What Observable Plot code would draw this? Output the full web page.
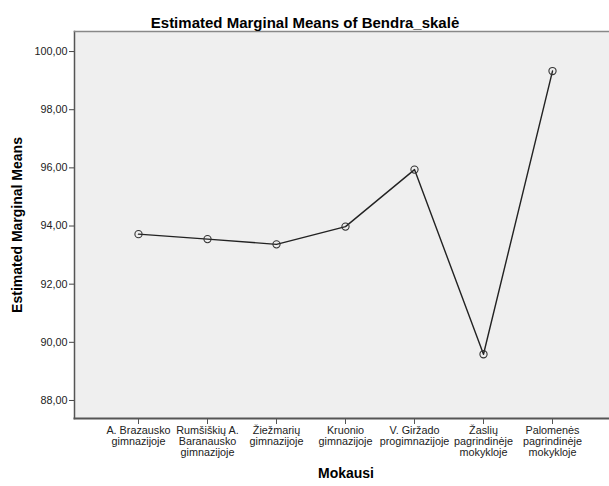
<!DOCTYPE html>
<html>
<head>
<meta charset="utf-8">
<script src="https://cdn.jsdelivr.net/npm/d3@7"></script>
<script src="https://cdn.jsdelivr.net/npm/@observablehq/plot@0.6"></script>
<style>
  body { margin: 0; background: #fff; }
  #chart svg { display: block; font-family: "Liberation Sans", Arial, sans-serif; }
</style>
</head>
<body>
<div id="chart"></div>
<script>
const categories = [
  "A. Brazausko\ngimnazijoje",
  "Rumšiškių A.\nBaranausko\ngimnazijoje",
  "Žiežmarių\ngimnazijoje",
  "Kruonio\ngimnazijoje",
  "V. Giržado\nprogimnazijoje",
  "Žaslių\npagrindinėje\nmokykloje",
  "Palomenės\npagrindinėje\nmokykloje"
];
const means = [93.72, 93.55, 93.37, 93.98, 95.94, 89.59, 99.33];
const yTicks = [88, 90, 92, 94, 96, 98, 100];
const titleText = "Estimated Marginal Means of Bendra_skalė";
const yLabel = "Estimated Marginal Means";
const xLabel = "Mokausi";

const data = categories.map((c, i) => ({cat: c, mean: means[i]}));
const fmt = d => d.toFixed(2).replace(".", ",");

const W = 609, H = 486;
const mL = 74, mR = 0, mT = 31, mB = 68;

const plot = Plot.plot({
  width: W,
  height: H,
  marginLeft: mL,
  marginRight: mR,
  marginTop: mT,
  marginBottom: mB,
  style: {fontFamily: "'Liberation Sans', Arial, sans-serif", background: "#fff", color: "#000"},
  x: {type: "point", domain: categories, padding: 0, insetLeft: 62, insetRight: 56, label: null},
  y: {domain: [87.38, 100.69], label: null},
  marks: [
    Plot.frame({fill: "#efefef", stroke: "none"}),
    Plot.axisX({
      ticks: categories, tickSize: 6, tickPadding: 2, stroke: "#555",
      fontSize: 10.8, lineHeight: 1.02, tickFormat: d => d, fill: "#222", label: null
    }),
    Plot.axisY({
      ticks: yTicks, tickSize: 5, tickPadding: 2, stroke: "#444",
      fontSize: 10.8, tickFormat: fmt, fill: "#222", label: null
    }),
    Plot.line(data, {x: "cat", y: "mean", stroke: "#222", strokeWidth: 1.4}),
    Plot.dot(data, {x: "cat", y: "mean", r: 3.6, stroke: "#333", strokeWidth: 1.1, fill: "none"}),
    Plot.frame({anchor: "left", stroke: "#555", strokeWidth: 1.5}),
    Plot.frame({anchor: "bottom", stroke: "#555", strokeWidth: 2}),
    Plot.frame({anchor: "top", stroke: "#888", strokeWidth: 1.5}),
    Plot.text([titleText], {frameAnchor: "top", dy: -14, dx: -37, fontSize: 15, fontWeight: "bold", fill: "#000"}),
    Plot.text([yLabel], {frameAnchor: "left", dx: -57, rotate: -90, textAnchor: "middle", fontSize: 14, fontWeight: "bold", fill: "#000"}),
    Plot.text([xLabel], {frameAnchor: "bottom", dy: 59, dx: 4, fontSize: 14, fontWeight: "bold", fill: "#000"})
  ]
});
document.getElementById("chart").appendChild(plot);
</script>
</body>
</html>
